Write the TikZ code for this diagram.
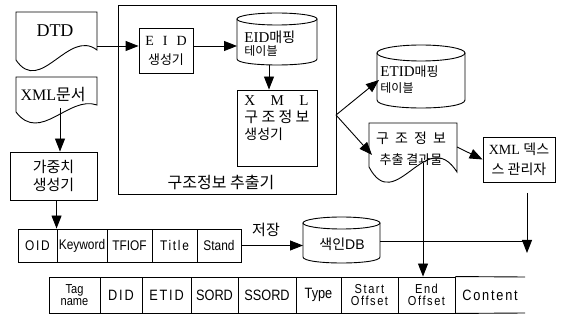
\documentclass[tikz,border=0pt]{standalone}
\usepackage{fontspec}
\setmainfont{Liberation Serif}
\newfontfamily\kr{Noto Sans CJK KR}
\newfontfamily\sansf{Liberation Sans}
\newfontfamily\narrowf{Liberation Sans}[FakeStretch=0.85]
\newfontfamily\spacedf{Liberation Sans}[FakeStretch=0.85,LetterSpace=12]
\usetikzlibrary{arrows.meta}
% document shape: x1 x2 ytop yleft yright dip crest
\newcommand\docshape[7]{%
  \draw (#1,#4) -- (#1,#3) -- (#2,#3) -- (#2,#5)
    .. controls ({#1+0.65*(#2-#1)},{#5-#7}) and ({#1+0.3*(#2-#1)},{#4+#6}) .. (#1,#4) -- cycle;}
% cylinder: cx rx ytop ybottom ry
\newcommand\cyl[5]{%
  \draw ({#1-#2},{#3+#5}) -- ({#1-#2},{#4-#5})
    .. controls ({#1-#2},{#4-#5+1.3333*#5}) and ({#1+#2},{#4-#5+1.3333*#5}) .. ({#1+#2},{#4-#5})
    -- ({#1+#2},{#3+#5});
  \draw (#1,{#3+#5}) ellipse[x radius=#2pt,y radius=#5pt];}
\begin{document}
\begin{tikzpicture}[x=1pt,y=1pt,yscale=-1,line width=0.9pt,
  arr/.style={-{Triangle[length=13pt,width=10pt]}},
  box/.style={draw,inner sep=0pt},
  txt/.style={inner sep=0pt,align=center},
  cella/.style={draw,inner sep=0pt,align=center,minimum height=33pt},
  cellb/.style={draw,inner sep=0pt,align=center,minimum height=36pt}]
\useasboundingbox (0,0) rectangle (570,320);

% DTD document
\docshape{16}{97}{12}{60}{50}{36}{22}
\node[txt,font=\fontsize{18}{20}\selectfont] (dtd) at (55,31) {DTD};
\coordinate (dtdR) at (97,46);

% XML document
\docshape{16}{97}{77}{112}{105}{32}{10}
\node[txt,font=\fontsize{16}{18}\selectfont] (xmld) at (53,95) {XML{\kr 문서}};
\coordinate (xmldB) at (60,108);

% weight generator
\node[box,minimum width=87pt,minimum height=48pt,align=center,
      font=\kr\fontsize{15}{18}\selectfont] (wgt) at (53.5,176) {가중치\\생성기};

% structure extractor frame
\node[box,minimum width=218pt,minimum height=189pt] (ext) at (227,99.5) {};
\node[txt,font=\kr\fontsize{16}{18}\selectfont] (extlbl) at (221,182) {구조정보 추출기};

% EID generator
\node[box,minimum width=54pt,minimum height=45pt,align=center,
      font=\fontsize{14}{19}\selectfont] (eid) at (166,50.5)
  {E\hspace{9pt}I\hspace{9pt}D\\\kr\fontsize{13}{15}\selectfont 생성기};

% EID mapping table
\cyl{277}{40}{13}{65}{6}
\node[txt,align=left,anchor=west,font=\fontsize{15}{13}\selectfont] (eidmap) at (244,44)
  {EID{\kr\fontsize{14}{13}\selectfont 매핑}\\\kr\fontsize{12}{13}\selectfont 테이블};
\coordinate (eidmapL) at (237,46);
\coordinate (eidmapB) at (269,65);

% XML structure info generator
\node[box,minimum width=80pt,minimum height=76pt] (xgen) at (277,128) {};
\node[txt,anchor=north west,align=left,font=\fontsize{15}{17}\selectfont] (xgentxt) at (244,95)
  {\makebox[64pt][l]{X\hfill M\hfill L}\\
   \kr\makebox[65pt][l]{구\hfill 조\hfill 정\hfill 보}\\
   \kr\fontsize{14}{17}\selectfont 생성기};

% ETID mapping table
\cyl{421}{44}{45}{108}{8}
\node[txt,align=left,anchor=west,font=\fontsize{15}{16}\selectfont] (etid) at (380,80)
  {ETID{\kr\fontsize{13}{16}\selectfont 매핑}\\\kr\fontsize{12}{16}\selectfont 테이블};
\coordinate (etidL) at (379,80);

% structure extraction result document
\docshape{369}{457}{123}{167}{172}{50}{48}
\node[txt,font=\kr\fontsize{14}{21}\selectfont] (res) at (411,149)
  {\makebox[70pt][l]{구\hfill 조\hfill 정\hfill 보}\\\fontsize{13}{21}\selectfont 추출 결과물};
\coordinate (resL) at (372,155);
\coordinate (resR) at (457,147);
\coordinate (resB) at (423,163);

% XML text manager
\node[box,minimum width=72pt,minimum height=45pt,align=center,
      font=\fontsize{14}{20}\selectfont] (mgr) at (519,159.5)
  {XML {\kr 덱스}\\\kr 스 관리자};
\coordinate (mgrB) at (527,193);
\coordinate (mgrT) at (527,253);

% index DB
\cyl{341.5}{38.5}{217}{263}{6}
\node[txt,font=\fontsize{14}{16}\selectfont] (db) at (342,244) {{\kr 색인}{\sansf DB}};
\coordinate (dbL) at (303,245.5);
\coordinate (dbR) at (380,241);

% row 1
\node[cella,minimum width=39pt,font=\spacedf\fontsize{14}{16}\selectfont] (r1a) at (37.5,245.5) {OID};
\node[cella,minimum width=50pt,font=\narrowf\fontsize{14}{16}\selectfont] (r1b) at (82,245.5) {Keyword};
\node[cella,minimum width=45pt,font=\narrowf\fontsize{14}{16}\selectfont] (r1c) at (129.5,245.5) {TFIOF};
\node[cella,minimum width=45pt,font=\spacedf\fontsize{14}{16}\selectfont] (r1d) at (174.5,245.5) {Title};
\node[cella,minimum width=44pt,font=\narrowf\fontsize{14}{16}\selectfont] (r1e) at (219,245.5) {Stand};
\node[txt,font=\kr\fontsize{15}{17}\selectfont] (store) at (266,230) {저장};

% row 2
\node[cellb,minimum width=51pt,font=\narrowf\fontsize{13}{12}\selectfont] (r2a) at (74.5,295) {Tag\\name};
\node[cellb,minimum width=42pt,font=\spacedf\fontsize{15}{16}\selectfont] (r2b) at (121,295) {DID};
\node[cellb,minimum width=49pt,font=\spacedf\fontsize{15}{16}\selectfont] (r2c) at (166.5,295) {ETID};
\node[cellb,minimum width=47pt,font=\narrowf\fontsize{15}{16}\selectfont] (r2d) at (214.5,295) {SORD};
\node[cellb,minimum width=58pt,font=\narrowf\fontsize{15}{16}\selectfont] (r2e) at (267,295) {SSORD};
\node[cellb,minimum width=45pt,font=\narrowf\fontsize{15}{16}\selectfont] (r2f) at (318.5,295) {Type};
\node[cellb,minimum width=57pt,font=\spacedf\fontsize{13}{12}\selectfont] (r2g) at (369.5,295) {Start\\Offset};
\node[cellb,minimum width=57pt,font=\spacedf\fontsize{13}{12}\selectfont] (endoff) at (426.5,295) {End\\Offset};
\node[txt,font=\spacedf\fontsize{15}{16}\selectfont] (cont) at (490,295) {Content};
\coordinate (contNE) at (525,277);
\coordinate (contSE) at (525,313);
\draw (endoff.north east) -- (contNE);
\draw (endoff.south east) -- (contSE);

% connectors
\draw[arr] (dtdR) -- (eid.west |- dtdR);
\draw[arr] (eid.east |- dtdR) -- (eidmapL);
\draw[arr] (eidmapB) -- (eidmapB |- xgen.north);
\draw[arr] (xmldB) -- (xmldB |- wgt.north);
\draw[arr] (wgt.south -| r1b.west) -- (r1b.north west);
\coordinate (extR) at (336,115);
\draw[arr] (extR) -- (etidL);
\draw[arr] (extR) -- (resL);
\draw[arr] (resR) -- (mgr.west);
\draw[arr] (resB) -- (resB |- endoff.north);
\draw[arr] (mgrB) -- (mgrT);
\draw[arr] (r1e.east) -- (dbL);
\draw (dbR) -- (dbR -| mgrB);
\end{tikzpicture}
\end{document}
